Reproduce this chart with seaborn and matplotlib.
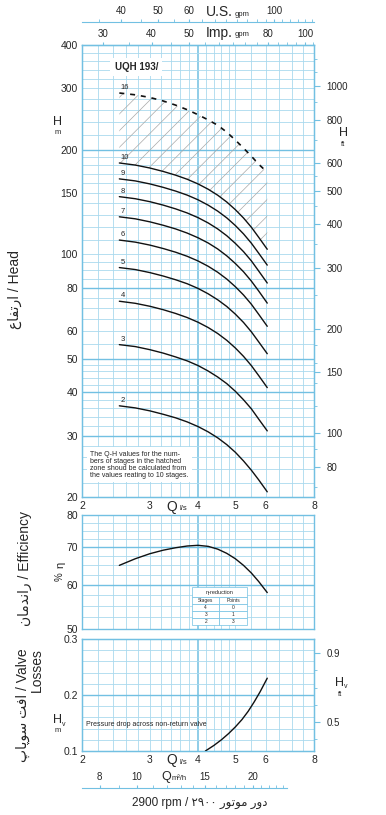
import numpy as np
import matplotlib
matplotlib.use('Agg')
import matplotlib.pyplot as plt
from matplotlib.patches import Rectangle
from matplotlib.ticker import FixedLocator, NullFormatter, NullLocator
import seaborn as sns

# ---------------------------------------------
# VALUES
# ---------------------------------------------
Q_LS = [2.5, 2.75, 3.0, 3.25, 3.5, 3.75, 4.0, 4.25, 4.5, 4.75,
        5.0, 5.25, 5.5, 5.75, 6.05]

H_STAGE_2 = [36.6, 36.1, 35.4, 34.6, 33.8, 32.9, 31.9, 30.8, 29.6, 28.3,
             26.9, 25.4, 23.9, 22.4, 20.7]
H_STAGE_3 = [54.9, 54.2, 53.1, 51.9, 50.6, 49.3, 47.8, 46.1, 44.3, 42.4,
             40.3, 38.1, 35.9, 33.5, 31.0]
H_STAGE_4 = [73.2, 72.2, 70.8, 69.2, 67.5, 65.7, 63.7, 61.5, 59.1, 56.5,
             53.7, 50.8, 47.8, 44.7, 41.3]
H_STAGE_5 = [91.5, 90.3, 88.5, 86.5, 84.4, 82.2, 79.7, 76.9, 73.9, 70.7,
             67.2, 63.6, 59.8, 55.9, 51.7]
H_STAGE_6 = [109.8, 108.3, 106.2, 103.8, 101.3, 98.6, 95.6, 92.3, 88.7, 84.8,
             80.6, 76.3, 71.8, 67.1, 62.0]
H_STAGE_7 = [128.1, 126.4, 123.9, 121.1, 118.2, 115.0, 111.5, 107.7, 103.5,
             98.9, 94.0, 89.0, 83.7, 78.3, 72.3]
H_STAGE_8 = [146.4, 144.4, 141.6, 138.4, 135.0, 131.4, 127.4, 123.0, 118.2,
             113.0, 107.4, 101.7, 95.7, 89.4, 82.6]
H_STAGE_9 = [164.7, 162.5, 159.3, 155.7, 151.9, 147.9, 143.4, 138.4, 133.0,
             127.2, 120.9, 114.4, 107.6, 100.6, 93.0]
H_STAGE_10 = [183.0, 180.5, 177.0, 173.0, 168.8, 164.3, 159.3, 153.8, 147.8,
              141.3, 134.3, 127.1, 119.6, 111.8, 103.3]
H_STAGE_16 = [291.0, 287.5, 282.5, 276.0, 268.5, 260.5, 252.0, 243.5, 235.0,
              224.5, 213.0, 202.0, 191.5, 181.5, 172.0]

EFF_PCT = [65.0, 66.8, 68.2, 69.2, 69.9, 70.4, 70.6, 70.3, 69.5, 68.3,
           66.8, 65.0, 63.0, 60.8, 58.1]

Q_VALVE = [4.18, 4.4, 4.6, 4.8, 5.0, 5.2, 5.4, 5.6, 5.8, 6.05]
HV_M = [0.100, 0.110, 0.120, 0.131, 0.143, 0.156, 0.171, 0.188, 0.206, 0.230]

Q_TICKS = [2, 3, 4, 5, 6, 8]
H_TICKS = [20, 30, 40, 50, 60, 80, 100, 150, 200, 300, 400]
FT_TICKS = [80, 100, 150, 200, 300, 400, 500, 600, 800, 1000]
EFF_TICKS = [50, 60, 70, 80]
HV_TICKS = [0.1, 0.2, 0.3]
HV_FT_TICKS = [0.5, 0.9]
US_GPM_TICKS = [40, 50, 60, 100]
IMP_GPM_TICKS = [30, 40, 50, 80, 100]
M3H_TICKS = [8, 10, 15, 20]
ETA_ROWS = [['4', '0'], ['3', '1'], ['2', '3']]

NOTE = ("The Q-H values for the num-\nbers of stages in the hatched\n"
        "zone shoud be calculated from\nthe values reating to 10 stages.")

# Persian text, glyphs in visual order
HEAD_FA = "\uFEC9\uFE8E\uFED4\uFE97\uFEAD\uFE8D"
EFF_FA = "\uFEE5\uFE8E\uFEE3\uFEAA\uFEE7\uFE8D\uFEAD"
VALVE_FA = "\uFB56\uFE8E\uFB58\uFEEE\uFEB3 \uFE96\uFED3\uFE8D"
RPM_FA = "\u06F2\u06F9\u06F0\u06F0 \uFEAD\uFEEE\uFE97\uFEEE\uFEE3 \uFEAD\uFEED\uFEA9"

# ---------------------------------------------
# STYLE
# ---------------------------------------------
sns.set_style('white')
plt.rcParams['font.family'] = ['Liberation Sans', 'DejaVu Sans']
plt.rcParams['hatch.linewidth'] = 0.5

GRID = '#a9d9ee'
GRID_DARK = '#72c0e2'
M_TO_FT = 3.2808
FIG_W, FIG_H = 386, 815

fig = plt.figure(figsize=(FIG_W / 100, FIG_H / 100), dpi=100)


def px_axes(x0, y0, x1, y1):
    return fig.add_axes([x0 / FIG_W, 1 - y1 / FIG_H,
                         (x1 - x0) / FIG_W, (y1 - y0) / FIG_H])


def ftext(x, y, s, **kw):
    return fig.text(x / FIG_W, 1 - y / FIG_H, s, **kw)


def style_panel(ax, hgrid, hthick):
    ax.set_xscale('log')
    ax.set_xlim(2, 8)
    qgrid = list(np.arange(2.2, 4.99, 0.2)) + list(np.arange(5.0, 7.9, 0.5))
    for q in qgrid:
        ax.axvline(q, color=GRID_DARK if abs(q - 4) < 1e-6 else GRID,
                   lw=1.1 if abs(q - 4) < 1e-6 else 0.6, zorder=0)
    for h in hgrid:
        thick = any(abs(h - t) < 1e-6 for t in hthick)
        ax.axhline(h, color=GRID_DARK if thick else GRID,
                   lw=1.0 if thick else 0.6, zorder=0)
    for s in ax.spines.values():
        s.set_color(GRID_DARK)
        s.set_linewidth(1.0)
    ax.xaxis.set_minor_locator(NullLocator())
    ax.yaxis.set_minor_locator(NullLocator())
    ax.tick_params(length=0, labelsize=7.5, pad=3)


# ---------------------------------------------
# HEAD PANEL
# ---------------------------------------------
ax_h = px_axes(82, 45, 314, 497)
ax_h.set_yscale('log')
ax_h.set_ylim(20, 400)
h_grid = (list(range(22, 50, 2)) + list(range(50, 100, 5))
          + list(range(100, 200, 10)) + list(range(200, 400, 20)))
style_panel(ax_h, h_grid, [30, 40, 50, 80, 200])
ax_h.set_yticks(H_TICKS, labels=[str(v) for v in H_TICKS])
ax_h.yaxis.set_minor_locator(NullLocator())
ax_h.set_xticks(Q_TICKS, labels=[str(v) for v in Q_TICKS])
ax_h.xaxis.set_minor_locator(NullLocator())

ax_h.fill_between(Q_LS, H_STAGE_10, H_STAGE_16, facecolor='none',
                  edgecolor='#a8a8a8', hatch='//', lw=0, zorder=1)

stage_curves = {2: H_STAGE_2, 3: H_STAGE_3, 4: H_STAGE_4, 5: H_STAGE_5,
                6: H_STAGE_6, 7: H_STAGE_7, 8: H_STAGE_8, 9: H_STAGE_9,
                10: H_STAGE_10}
for n, heads in stage_curves.items():
    sns.lineplot(x=Q_LS, y=heads, ax=ax_h, color='#111111', lw=1.0,
                 legend=False, zorder=3)
    ax_h.text(2.52, heads[0] * 1.012, str(n), fontsize=5.5,
              ha='left', va='bottom', zorder=4)
sns.lineplot(x=Q_LS, y=H_STAGE_16, ax=ax_h, color='#111111', lw=1.2,
             legend=False, zorder=3)
ax_h.lines[-1].set_dashes([3, 3.5])
ax_h.text(2.52, H_STAGE_16[0] * 1.012, '16', fontsize=5.5,
          ha='left', va='bottom', zorder=4)
ax_h.set_xlabel('')
ax_h.set_ylabel('')

ax_h.text(2.43, 345, 'UQH 193/', fontsize=7, fontweight='bold', va='center',
          bbox=dict(facecolor='white', edgecolor='none', pad=3), zorder=5)
ax_h.text(2.1, 27.2, NOTE, fontsize=5, va='top', ha='left', linespacing=1.0,
          bbox=dict(facecolor='white', edgecolor='none', pad=2.5), zorder=5)

# right axis in feet
ax_ft = ax_h.twinx()
ax_ft.set_yscale('log')
ax_ft.set_ylim(20 * M_TO_FT, 400 * M_TO_FT)
ax_ft.set_yticks(FT_TICKS, labels=[str(v) for v in FT_TICKS])
ax_ft.yaxis.set_minor_locator(FixedLocator(
    [70, 90, 120, 140, 160, 180, 250, 350, 450, 550, 700, 900, 1100, 1200]))
ax_ft.yaxis.set_minor_formatter(NullFormatter())
ax_ft.tick_params(axis='y', which='major', length=4, color=GRID_DARK,
                  labelsize=7, pad=5)
ax_ft.tick_params(axis='y', which='minor', length=2.5, color=GRID_DARK)
for s in ax_ft.spines.values():
    s.set_color(GRID_DARK)

# top axes: gpm
us = ax_h.secondary_xaxis(1 + 23 / 452, functions=(lambda q: q * 15.85,
                                                  lambda g: g / 15.85))
us.set_ticks(US_GPM_TICKS, labels=[str(v) for v in US_GPM_TICKS])
us.xaxis.set_minor_locator(FixedLocator(list(range(35, 130, 5))))
us.xaxis.set_minor_formatter(NullFormatter())
us.tick_params(which='both', length=2.5, color=GRID_DARK, labelsize=7, pad=2)
us.spines['top'].set_color(GRID_DARK)
us.spines['top'].set_linewidth(0.8)

imp = ax_h.secondary_xaxis('top', functions=(lambda q: q * 13.198,
                                            lambda g: g / 13.198))
imp.set_ticks(IMP_GPM_TICKS, labels=[str(v) for v in IMP_GPM_TICKS])
imp.xaxis.set_minor_locator(FixedLocator(list(range(30, 106, 5))))
imp.xaxis.set_minor_formatter(NullFormatter())
imp.tick_params(which='both', length=2.5, color=GRID_DARK, labelsize=7, pad=2)
imp.spines['top'].set_color(GRID_DARK)

ftext(206, 12, 'U.S.', fontsize=10, va='center', ha='left')
ftext(235, 14, 'gpm', fontsize=5.5, va='center', ha='left')
ftext(206, 33, 'Imp.', fontsize=10, va='center', ha='left')
ftext(235, 35, 'gpm', fontsize=5.5, va='center', ha='left')
ftext(172, 507, 'Q', fontsize=10, va='center', ha='center')
ftext(179, 509, 'l/s', fontsize=5.5, va='center', ha='left')

ftext(15, 290, HEAD_FA + ' / Head', fontsize=10, rotation=90,
      ha='center', va='center')
ftext(58, 122, 'H', fontsize=9, ha='center', va='center')
ftext(58, 133, 'm', fontsize=5.5, ha='center', va='center')
ftext(343, 133, 'H', fontsize=9, ha='center', va='center')
ftext(343, 144, 'ft', fontsize=5.5, ha='center', va='center')

# ---------------------------------------------
# EFFICIENCY PANEL
# ---------------------------------------------
ax_e = px_axes(82, 515, 314, 629)
ax_e.set_yscale('log')
ax_e.set_ylim(50, 80)
style_panel(ax_e, [52.5, 55, 57.5, 60, 62.5, 65, 67.5, 70, 72.5, 75, 77.5],
            [60, 70])
ax_e.set_yticks(EFF_TICKS, labels=[str(v) for v in EFF_TICKS])
ax_e.yaxis.set_minor_locator(NullLocator())
ax_e.set_xticks([])
ax_e.xaxis.set_minor_locator(NullLocator())
sns.lineplot(x=Q_LS, y=EFF_PCT, ax=ax_e, color='#111111', lw=1.0,
             legend=False, zorder=3)
ax_e.set_xlabel('')
ax_e.set_ylabel('')

tbl = ax_e.table(cellText=ETA_ROWS, colLabels=['Stages', 'Points'],
                 cellLoc='center', bbox=[0.474, 0.035, 0.237, 0.246])
tbl.auto_set_font_size(False)
tbl.set_fontsize(3.5)
for cell in tbl.get_celld().values():
    cell.set_edgecolor(GRID_DARK)
    cell.set_linewidth(0.5)
ax_e.add_patch(Rectangle((0.474, 0.281), 0.237, 0.087, transform=ax_e.transAxes,
                         facecolor='white', edgecolor=GRID_DARK, lw=0.5,
                         zorder=5))
ax_e.text(0.5925, 0.324, '\u03b7-reduction', transform=ax_e.transAxes,
          fontsize=4, ha='center', va='center', zorder=6)

ftext(25, 568, EFF_FA + ' / Efficiency', fontsize=10, rotation=90,
      ha='center', va='center')
ftext(60, 565, '\u03b7', fontsize=8, rotation=90, ha='center', va='center')
ftext(60, 577, '%', fontsize=7, rotation=90, ha='center', va='center')

# ---------------------------------------------
# VALVE LOSS PANEL
# ---------------------------------------------
ax_v = px_axes(82, 639, 314, 751)
ax_v.set_ylim(0.1, 0.3)
style_panel(ax_v, list(np.arange(0.12, 0.29, 0.02)), [0.2])
ax_v.set_yticks(HV_TICKS, labels=[str(v) for v in HV_TICKS])
ax_v.set_xticks(Q_TICKS, labels=[str(v) for v in Q_TICKS])
ax_v.xaxis.set_minor_locator(NullLocator())
sns.lineplot(x=Q_VALVE, y=HV_M, ax=ax_v, color='#111111', lw=1.0,
             legend=False, zorder=3)
ax_v.set_xlabel('')
ax_v.set_ylabel('')
ax_v.text(2.05, 0.148, 'Pressure drop across non-return valve', fontsize=5,
          ha='left', va='center', zorder=4)

ax_vft = ax_v.twinx()
ax_vft.set_ylim(0.1 * M_TO_FT, 0.3 * M_TO_FT)
ax_vft.set_yticks(HV_FT_TICKS, labels=[str(v) for v in HV_FT_TICKS])
ax_vft.yaxis.set_minor_locator(FixedLocator([0.4, 0.6, 0.7, 0.8]))
ax_vft.tick_params(axis='y', which='major', length=4, color=GRID_DARK,
                   labelsize=7, pad=5)
ax_vft.tick_params(axis='y', which='minor', length=2.5, color=GRID_DARK)
for s in ax_vft.spines.values():
    s.set_color(GRID_DARK)

m3 = ax_v.secondary_xaxis(-37 / 112, functions=(lambda q: q * 3.6,
                                               lambda m: m / 3.6))
m3.set_alignment('top')
m3.set_ticks(M3H_TICKS, labels=[str(v) for v in M3H_TICKS])
m3.xaxis.set_minor_locator(FixedLocator(list(range(8, 25))))
m3.xaxis.set_minor_formatter(NullFormatter())
m3.tick_params(which='both', length=2.5, color=GRID_DARK, labelsize=7, pad=2)
m3.spines['top'].set_color(GRID_DARK)
m3.spines['top'].set_linewidth(0.8)
m3.spines['top'].set_bounds(7.2, 24.5)

ftext(172, 760, 'Q', fontsize=10, va='center', ha='center')
ftext(179, 762, 'l/s', fontsize=5.5, va='center', ha='left')
ftext(166, 777, 'Q', fontsize=9, va='center', ha='center')
ftext(172, 778, 'm\u00b3/h', fontsize=5.5, va='center', ha='left')

ftext(30, 705, VALVE_FA + ' / Valve\nLosses', fontsize=10, rotation=90,
      ha='center', va='center', multialignment='right', linespacing=1.0)
ftext(57, 720, 'H', fontsize=9, ha='center', va='center')
ftext(62, 724, 'v', fontsize=5, ha='left', va='center')
ftext(58, 731, 'm', fontsize=5.5, ha='center', va='center')
ftext(339, 683, 'H', fontsize=9, ha='center', va='center')
ftext(344, 687, 'v', fontsize=5, ha='left', va='center')
ftext(340, 694, 'ft', fontsize=5.5, ha='center', va='center')

ftext(200, 803, '2900 rpm / ' + RPM_FA, fontsize=8.5, ha='center',
      va='center')

fig.savefig('out.png', dpi=100)
plt.close(fig)
